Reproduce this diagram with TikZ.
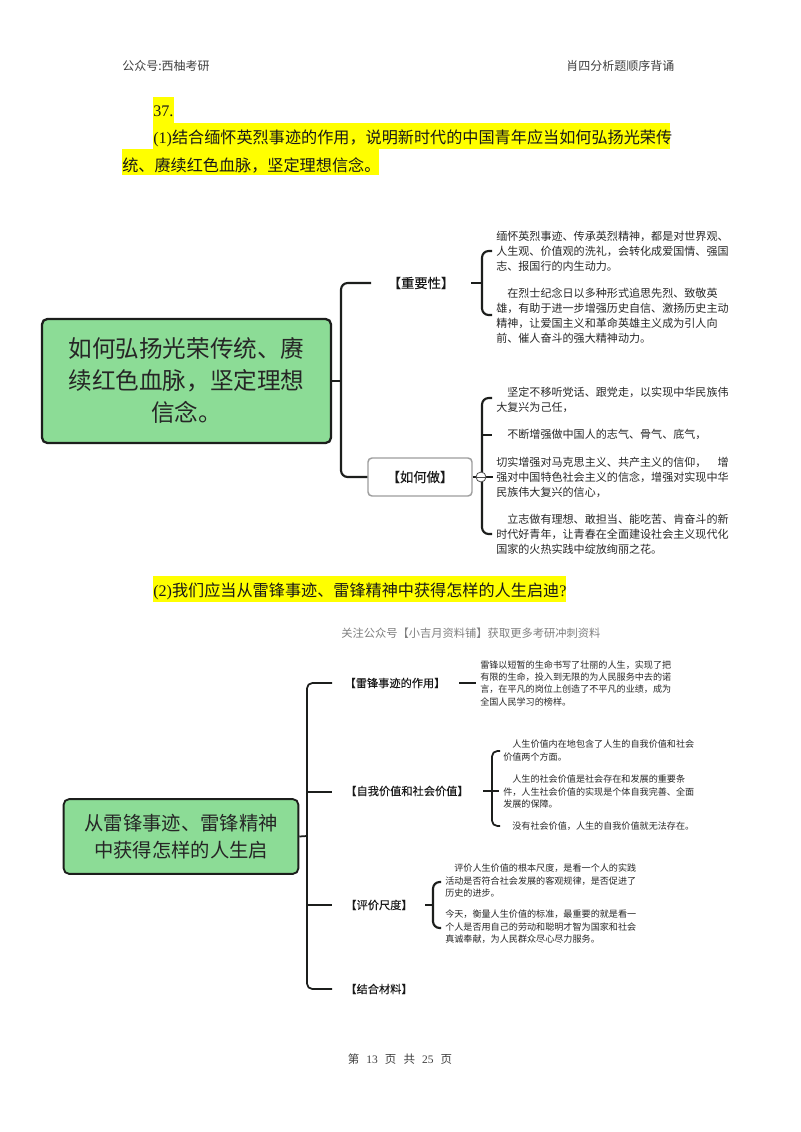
\documentclass[tikz,border=0pt]{standalone}
\usepackage{fontspec}
\setmainfont{Noto Sans CJK SC}
\newfontfamily\ser{Liberation Serif}
\newfontfamily\heavy[FakeBold=0.15]{Noto Sans CJK SC}
\usetikzlibrary{calc}
\definecolor{hl}{RGB}{255,255,0}
\definecolor{gr}{RGB}{140,220,150}
\definecolor{ln}{RGB}{28,30,28}
\definecolor{tx}{RGB}{40,40,40}
\tikzset{
 root/.style={draw=ln,line width=1.7pt,fill=gr,rounded corners=4pt,text=black!85,align=center,inner sep=0pt},
 conn/.style={draw=ln,line width=1.6pt,rounded corners=5pt},
 conns/.style={draw=ln,line width=1.3pt,rounded corners=4pt},
 body/.style={text=tx,anchor=north west,align=left,inner sep=0pt,font=\fontsize{8.3pt}{11.2pt}\selectfont},
 small/.style={text=tx,anchor=north west,align=left,inner sep=0pt,font=\fontsize{6.82pt}{9.3pt}\selectfont},
 lab/.style={text=black!90,inner sep=0pt,font=\heavy\fontsize{10pt}{12pt}\selectfont},
 labs/.style={text=black!90,inner sep=0pt,font=\heavy\fontsize{8.4pt}{10pt}\selectfont},
 hd/.style={text=black!75,inner sep=0pt,font=\fontsize{9pt}{11pt}\selectfont},
 ques/.style={text=black!90,anchor=west,inner sep=0pt,font=\fontsize{12.1pt}{14pt}\selectfont},
 hlbar/.style={fill=hl,draw=none}
}
\newcommand{\ind}{\hspace*{1.0em}}
\newcommand{\pgap}{\hspace{0.62em}}
\begin{document}
\begin{tikzpicture}[x=0.75pt,y=-0.75pt]
\useasboundingbox (0,0) rectangle (800,1132);
\fill[white] (0,0) rectangle (800,1132);
% highlights
\fill[hlbar] (153,97) rectangle (174,123);
\fill[hlbar] (153,123) rectangle (670,149);
\fill[hlbar] (122,149) rectangle (379,174.5);
\fill[hlbar] (153,576) rectangle (566,602);
% header
\node[hd,anchor=west] (h1) at (122,66) {公众号:西柚考研};
\node[hd,anchor=west] (h2) at (566,66) {肖四分析题顺序背诵};
\node[ques] (q0) at (153,111) {{\ser 37.}};
\node[ques] (q1) at (153,138) {{\ser (1)}结合缅怀英烈事迹的作用，说明新时代的中国青年应当如何弘扬光荣传};
\node[ques] (q2) at (122,165.5) {统、赓续红色血脉，坚定理想信念。};
\node[ques] (q3) at (153,591) {{\ser (2)}我们应当从雷锋事迹、雷锋精神中获得怎样的人生启迪{\ser ?}};
\node[text=black!50,inner sep=0pt,anchor=west,font=\fontsize{8.45pt}{10pt}\selectfont] (wm) at (341,633) {关注公众号【小吉月资料铺】获取更多考研冲刺资料};
% map 1
\node[root,minimum width=216.75pt,minimum height=93pt,font=\fontsize{17.7pt}{24pt}\selectfont] (r1) at (186.5,381) {如何弘扬光荣传统、赓\\续红色血脉，坚定理想\\信念。};
\node[lab] (a1) at (421,283) {【重要性】};
\node[draw=black!38,line width=1.1pt,rounded corners=3pt,minimum width=78pt,minimum height=28.5pt,lab] (a2) at (420,477) {【如何做】};
\coordinate (t1) at (371,283);
\coordinate (j1) at (341,381);
\draw[conn] (r1.east) -- (j1);
\draw[conn] (t1) -| (j1) |- (a2.west);
\node[body] (b1) at (496,231) {缅怀英烈事迹、传承英烈精神，都是对世界观、\\人生观、价值观的洗礼，会转化成爱国情、强国\\志、报国行的内生动力。};
\node[body] (b2) at (496,288) {\ind 在烈士纪念日以多种形式追思先烈、致敬英\\雄，有助于进一步增强历史自信、激扬历史主动\\精神，让爱国主义和革命英雄主义成为引人向\\前、催人奋斗的强大精神动力。};
\coordinate (c1) at (471,283);
\coordinate (d1) at (482,283);
\coordinate (e1) at (492,251);
\coordinate (e2) at (492,315);
\draw[conn] (c1) -- (d1);
\draw[conn] (e1) -| (d1) |- (e2);
\node[body] (b3) at (496,387) {\ind 坚定不移听党话、跟党走，以实现中华民族伟\\大复兴为己任，};
\node[body] (b4) at (496,429) {\ind 不断增强做中国人的志气、骨气、底气，};
\node[body] (b5) at (496,457) {切实增强对马克思主义、共产主义的信仰，\hspace{1em}增\\强对中国特色社会主义的信念，增强对实现中华\\民族伟大复兴的信心，};
\node[body] (b6) at (496,514) {\ind 立志做有理想、敢担当、能吃苦、肯奋斗的新\\时代好青年，让青春在全面建设社会主义现代化\\国家的火热实践中绽放绚丽之花。};
\coordinate (d2) at (482,477);
\coordinate (f1) at (492,398);
\coordinate (f2) at (492,435);
\coordinate (f3) at (493,477);
\coordinate (f4) at (492,534);
\draw[conn] (f1) -| (d2) |- (f4);
\draw[conn] (d2 |- f2) -- (f2);
\draw[line width=1pt,draw=ln] (a2.east) -- (f3);
\node[draw=black!70,fill=white,circle,minimum size=7.5pt,inner sep=0pt,line width=.6pt] (cc) at (481,477) {};
\draw[black!70,line width=.6pt] (cc.west) -- (cc.east);
% map 2
\node[root,line width=1.4pt,minimum width=176pt,minimum height=56pt,font=\fontsize{14.5pt}{20pt}\selectfont] (r2) at (181,836.5) {从雷锋事迹、雷锋精神\\中获得怎样的人生启};
\node[labs] (a3) at (395,683) {【雷锋事迹的作用】};
\node[labs] (a4) at (407,791) {【自我价值和社会价值】};
\node[labs] (a5) at (379,905) {【评价尺度】};
\node[labs] (a6) at (379,989) {【结合材料】};
\coordinate (t3) at (332,683);
\coordinate (t4) at (332,792);
\coordinate (t5) at (332,905);
\coordinate (t6) at (332,989);
\coordinate (j2) at (307,836);
\draw[conns] (r2.east) -- (j2);
\draw[conns] (t3) -| (j2) |- (t6);
\draw[conns] (j2 |- t4) -- (t4);
\draw[conns] (j2 |- t5) -- (t5);
\node[small] (s1) at (480,660) {雷锋以短暂的生命书写了壮丽的人生，实现了把\\有限的生命，投入到无限的为人民服务中去的诺\\言，在平凡的岗位上创造了不平凡的业绩，成为\\全国人民学习的榜样。};
\coordinate (u1) at (459,683);
\coordinate (u2) at (476,683);
\draw[conns] (u1) -- (u2);
\node[small] (s2) at (503,740) {\ind 人生价值内在地包含了人生的自我价值和社会\\价值两个方面。};
\node[small] (s3) at (503,775) {\ind 人生的社会价值是社会存在和发展的重要条\\件，人生社会价值的实现是个体自我完善、全面\\发展的保障。};
\node[small] (s4) at (503,822) {\ind 没有社会价值，人生的自我价值就无法存在。};
\coordinate (v0) at (483,791);
\coordinate (v1) at (492,791);
\coordinate (v2) at (500,751);
\coordinate (v3) at (500,826);
\coordinate (v4) at (499,791);
\draw[conns] (v2) -| (v1) |- (v3);
\draw[conns] (v0) -- (v4);
\node[small] (s5) at (445,864) {\ind 评价人生价值的根本尺度，是看一个人的实践\\活动是否符合社会发展的客观规律，是否促进了\\历史的进步。};
\node[small] (s6) at (445,910) {今天，衡量人生价值的标准，最重要的就是看一\\个人是否用自己的劳动和聪明才智为国家和社会\\真诚奉献，为人民群众尽心尽力服务。};
\coordinate (w0) at (425,905);
\coordinate (w1) at (433,905);
\coordinate (w2) at (441,882);
\coordinate (w3) at (441,928);
\draw[conn] (w2) -| (w1) |- (w3);
\draw[conn] (w0) -- (w1);
\node[hd,font=\fontsize{8.6pt}{11pt}\selectfont] (pg) at (400,1059) {第\pgap{\ser 13}\pgap 页\pgap 共\pgap{\ser 25}\pgap 页};
\end{tikzpicture}
\end{document}
